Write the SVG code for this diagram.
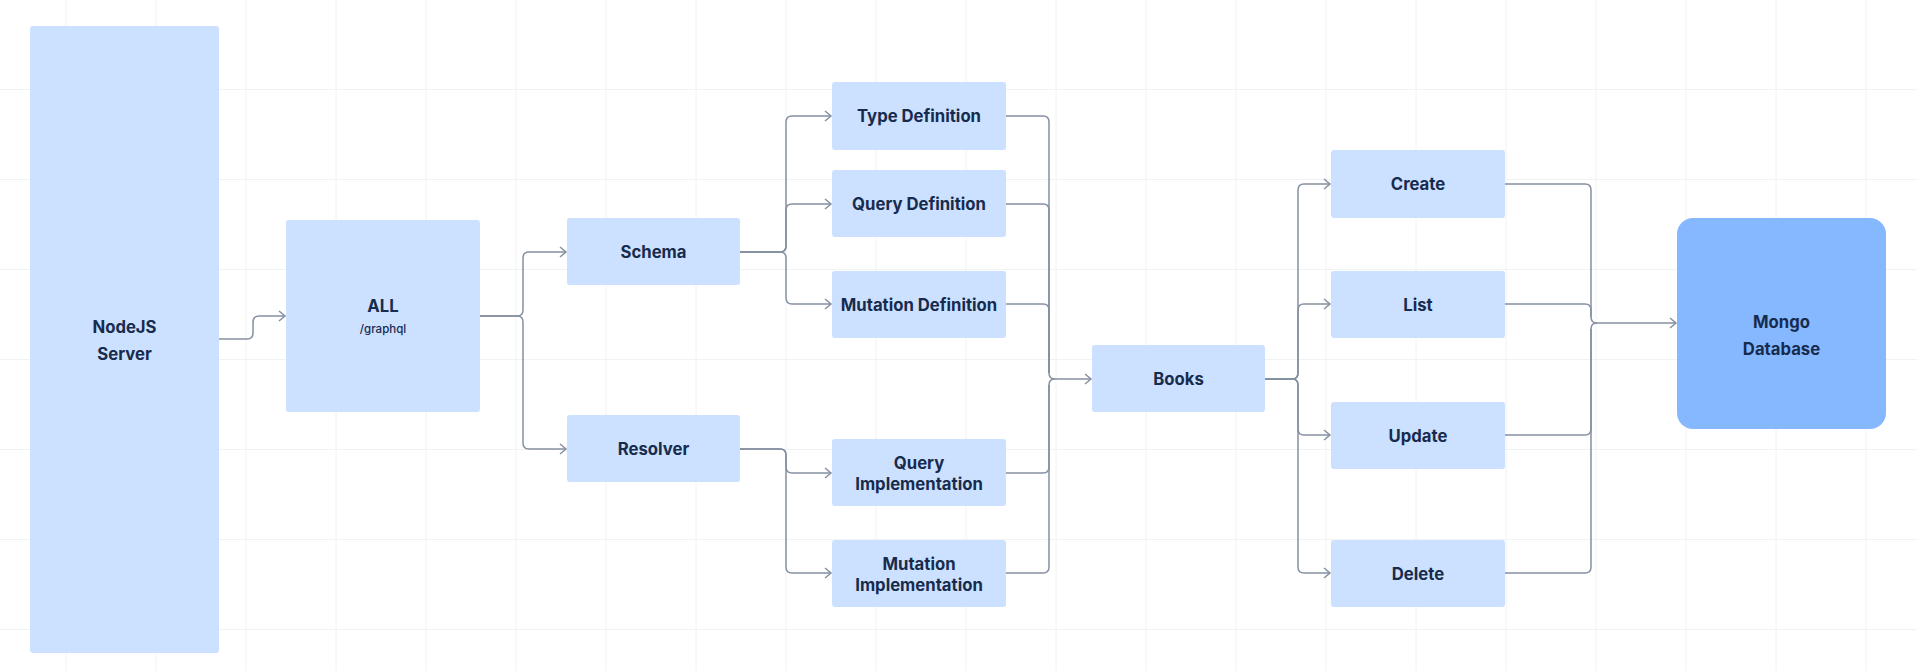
<svg xmlns="http://www.w3.org/2000/svg" width="1917" height="671" viewBox="0 0 1917 671">
<defs>
<style>
.grid line{stroke:#f1f2f4;stroke-width:1}
.box{fill:#cce0ff}
.db{fill:#86b8ff}
.lbl{font-family:Inter,"Liberation Sans",sans-serif;font-weight:700;font-size:16.7px;fill:#172b4d;text-anchor:middle;dominant-baseline:central}
.sub{font-family:Inter,"Liberation Sans",sans-serif;font-weight:500;font-size:11.5px;fill:#172b4d;text-anchor:middle;dominant-baseline:central}
.conn path{fill:none;stroke:#8590a2;stroke-width:1.5;stroke-linejoin:round}
</style>
<marker id="arr" markerUnits="userSpaceOnUse" markerWidth="12" markerHeight="14" refX="7" refY="6" orient="auto" viewBox="0 0 12 12">
<path d="M1,1 L7,6 L1,11" fill="none" stroke="#8590a2" stroke-width="1.5"/>
</marker>
</defs>
<rect width="1917" height="671" fill="#ffffff"/>
<g class="grid">
<line x1="66" y1="0" x2="66" y2="671"/><line x1="156" y1="0" x2="156" y2="671"/><line x1="246" y1="0" x2="246" y2="671"/><line x1="336" y1="0" x2="336" y2="671"/><line x1="426" y1="0" x2="426" y2="671"/><line x1="516" y1="0" x2="516" y2="671"/><line x1="606" y1="0" x2="606" y2="671"/><line x1="696" y1="0" x2="696" y2="671"/><line x1="786" y1="0" x2="786" y2="671"/><line x1="876" y1="0" x2="876" y2="671"/><line x1="966" y1="0" x2="966" y2="671"/><line x1="1056" y1="0" x2="1056" y2="671"/><line x1="1146" y1="0" x2="1146" y2="671"/><line x1="1236" y1="0" x2="1236" y2="671"/><line x1="1326" y1="0" x2="1326" y2="671"/><line x1="1416" y1="0" x2="1416" y2="671"/><line x1="1506" y1="0" x2="1506" y2="671"/><line x1="1596" y1="0" x2="1596" y2="671"/><line x1="1686" y1="0" x2="1686" y2="671"/><line x1="1776" y1="0" x2="1776" y2="671"/><line x1="1866" y1="0" x2="1866" y2="671"/>
<line x1="0" y1="89.5" x2="1917" y2="89.5"/><line x1="0" y1="179.5" x2="1917" y2="179.5"/><line x1="0" y1="269.5" x2="1917" y2="269.5"/><line x1="0" y1="359.5" x2="1917" y2="359.5"/><line x1="0" y1="449.5" x2="1917" y2="449.5"/><line x1="0" y1="539.5" x2="1917" y2="539.5"/><line x1="0" y1="629.5" x2="1917" y2="629.5"/>
</g>
<g class="conn">
<path marker-end="url(#arr)" d="M219,339 H247 Q253,339 253,333 V322 Q253,316 259,316 H285"/>
<path marker-end="url(#arr)" d="M480,316 H517 Q523,316 523,310 V258 Q523,252 529,252 H566"/>
<path marker-end="url(#arr)" d="M480,316 H517 Q523,316 523,322 V443 Q523,449 529,449 H566"/>
<path marker-end="url(#arr)" d="M740,252 H780 Q786,252 786,246 V122 Q786,116 792,116 H831"/>
<path marker-end="url(#arr)" d="M740,252 H780 Q786,252 786,246 V210 Q786,204 792,204 H831"/>
<path marker-end="url(#arr)" d="M740,252 H780 Q786,252 786,258 V298 Q786,304 792,304 H831"/>
<path marker-end="url(#arr)" d="M740,449 H780 Q786,449 786,455 V467 Q786,473 792,473 H831"/>
<path marker-end="url(#arr)" d="M740,449 H780 Q786,449 786,455 V567 Q786,573 792,573 H831"/>
<path marker-end="url(#arr)" d="M1006,116 H1043 Q1049,116 1049,122 V373 Q1049,379 1055,379 H1091"/>
<path d="M1006,204 H1043 Q1049,204 1049,210 V373"/>
<path d="M1006,304 H1043 Q1049,304 1049,310 V373"/>
<path d="M1006,473 H1043 Q1049,473 1049,467 V385 Q1049,379 1055,379"/>
<path d="M1006,573 H1043 Q1049,573 1049,567 V385"/>
<path marker-end="url(#arr)" d="M1265,379 H1292 Q1298,379 1298,373 V190 Q1298,184 1304,184 H1330"/>
<path marker-end="url(#arr)" d="M1265,379 H1292 Q1298,379 1298,373 V310 Q1298,304 1304,304 H1330"/>
<path marker-end="url(#arr)" d="M1265,379 H1292 Q1298,379 1298,385 V429 Q1298,435 1304,435 H1330"/>
<path marker-end="url(#arr)" d="M1265,379 H1292 Q1298,379 1298,385 V567 Q1298,573 1304,573 H1330"/>
<path marker-end="url(#arr)" d="M1505,184 H1585 Q1591,184 1591,190 V317 Q1591,323 1597,323 H1676"/>
<path d="M1505,304 H1585 Q1591,304 1591,310 V317"/>
<path d="M1505,435 H1585 Q1591,435 1591,429 V329 Q1591,323 1597,323"/>
<path d="M1505,573 H1585 Q1591,573 1591,567 V329"/>
</g>
<g id="nodejs"><rect class="box" x="30" y="26" width="189" height="627" rx="3"/><text class="lbl" x="124.5" y="326.5">NodeJS</text><text class="lbl" x="124.5" y="354">Server</text></g>
<g id="all"><rect class="box" x="286" y="220" width="194" height="192" rx="3"/><text class="lbl" x="383" y="306">ALL</text><text class="sub" x="383" y="329">/graphql</text></g>
<g id="schema"><rect class="box" x="567" y="218" width="173" height="67" rx="3"/><text class="lbl" x="653.5" y="252">Schema</text></g>
<g id="resolver"><rect class="box" x="567" y="415" width="173" height="67" rx="3"/><text class="lbl" x="653.5" y="449">Resolver</text></g>
<g id="typedef"><rect class="box" x="832" y="82" width="174" height="68" rx="3"/><text class="lbl" x="919" y="116">Type Definition</text></g>
<g id="querydef"><rect class="box" x="832" y="170" width="174" height="67" rx="3"/><text class="lbl" x="919" y="204">Query Definition</text></g>
<g id="mutationdef"><rect class="box" x="832" y="271" width="174" height="67" rx="3"/><text class="lbl" x="919" y="305">Mutation Definition</text></g>
<g id="queryimpl"><rect class="box" x="832" y="439" width="174" height="67" rx="3"/><text class="lbl" x="919" y="463">Query</text><text class="lbl" x="919" y="483.5">Implementation</text></g>
<g id="mutationimpl"><rect class="box" x="832" y="540" width="174" height="67" rx="3"/><text class="lbl" x="919" y="564">Mutation</text><text class="lbl" x="919" y="584.5">Implementation</text></g>
<g id="books"><rect class="box" x="1092" y="345" width="173" height="67" rx="3"/><text class="lbl" x="1178.5" y="379">Books</text></g>
<g id="create"><rect class="box" x="1331" y="150" width="174" height="68" rx="3"/><text class="lbl" x="1418" y="184">Create</text></g>
<g id="list"><rect class="box" x="1331" y="271" width="174" height="67" rx="3"/><text class="lbl" x="1418" y="305">List</text></g>
<g id="update"><rect class="box" x="1331" y="402" width="174" height="67" rx="3"/><text class="lbl" x="1418" y="436">Update</text></g>
<g id="delete"><rect class="box" x="1331" y="540" width="174" height="67" rx="3"/><text class="lbl" x="1418" y="574">Delete</text></g>
<g id="mongo"><rect class="db" x="1677" y="218" width="209" height="211" rx="16"/><text class="lbl" x="1781.5" y="322">Mongo</text><text class="lbl" x="1781.5" y="349">Database</text></g>
</svg>
